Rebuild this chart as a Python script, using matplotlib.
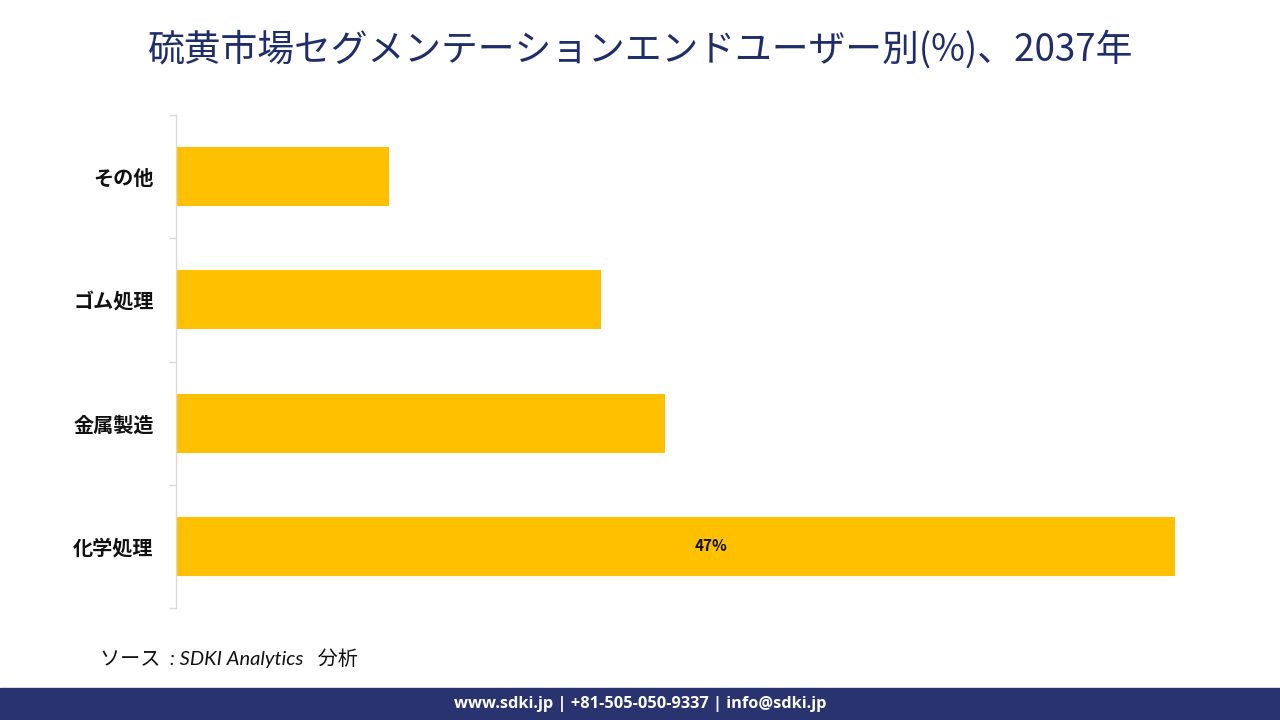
import matplotlib
matplotlib.use("Agg")
import matplotlib.pyplot as plt
from matplotlib.patches import Rectangle

plt.rcParams['font.family'] = ['Noto Sans CJK JP', 'DejaVu Sans']

categories = ["化学処理", "金属製造", "ゴム処理", "その他"]
values = [47, 23, 20, 10]
value_labels = ["47%", "", "", ""]
title = "硫黄市場セグメンテーションエンドユーザー別(%)、2037年"
source = "ソース  : SDKI Analytics   分析"
footer = "www.sdki.jp | +81-505-050-9337 | info@sdki.jp"

W, H = 1280, 720
fig = plt.figure(figsize=(12.8, 7.2), dpi=100)
fig.patch.set_facecolor("white")

x_max = 50
left_px, right_px = 176, 176 + 50 * (1175 - 176) / 47
top_px, bottom_px = 115, 608
ax = fig.add_axes([left_px / W, 1 - bottom_px / H, (right_px - left_px) / W, (bottom_px - top_px) / H])

ypos = list(range(len(categories)))
ax.barh(ypos, values, height=0.48, color="#FFC000")
ax.set_xlim(0, x_max)
ax.set_ylim(-0.5, len(categories) - 0.5)
ax.set_yticks(ypos)
ax.set_yticklabels(categories, fontsize=14.5, fontweight="bold", color="#111111")
ax.set_yticks([i - 0.5 for i in range(len(categories) + 1)], minor=True)
ax.tick_params(axis="y", which="major", length=0, pad=16)
ax.tick_params(axis="y", which="minor", length=5, color="#d9d9d9", width=1)
ax.set_xticks([])
for s in ["top", "right", "bottom"]:
    ax.spines[s].set_visible(False)
ax.spines["left"].set_color("#d9d9d9")
ax.spines["left"].set_linewidth(1)

for y, v, lab in zip(ypos, values, value_labels):
    if lab:
        ax.text(v * 0.536, y, lab, ha="center", va="center", fontsize=11, fontweight="bold", color="#111111")

fig.text(641 / W, 1 - 50 / H, title, ha="center", va="center", fontsize=26.5, color="#1F2D6B")
fig.text(100 / W, 1 - 658 / H, source, ha="left", va="center", fontsize=14.5, style="italic", color="#111111",
         family=["Lato", "Noto Sans CJK JP", "DejaVu Sans"])

fig.patches.append(Rectangle((0, 0), 1, 32 / H, transform=fig.transFigure, color="#283370", zorder=0))
fig.text(640 / W, 1 - 704 / H, footer, ha="center", va="center", fontsize=11.8, fontweight="bold", color="white",
         family=["Open Sans", "DejaVu Sans"])

fig.savefig("out.png", dpi=100)
